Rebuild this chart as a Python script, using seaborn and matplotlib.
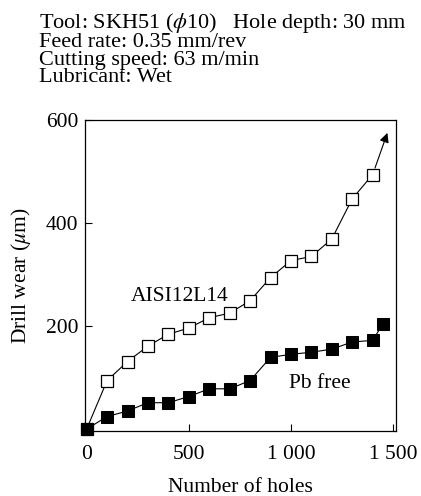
import pandas as pd
import seaborn as sns
import matplotlib.pyplot as plt

holes = [0, 100, 200, 300, 400, 500, 600, 700, 800, 900, 1000, 1100, 1200, 1300, 1400]
wear_aisi = [0, 94, 131, 161, 184, 196, 216, 225, 249, 294, 327, 335, 369, 447, 494]

holes_pb = [0, 100, 200, 300, 400, 500, 600, 700, 800, 900, 1000, 1100, 1200, 1300, 1400, 1450]
wear_pb = [0, 24, 35, 51, 51, 63, 78, 78, 94, 139, 145, 149, 155, 169, 172, 204]

header = ["Tool: SKH51 ($\\phi$10)   Hole depth: 30 mm",
          "Feed rate: 0.35 mm/rev",
          "Cutting speed: 63 m/min",
          "Lubricant: Wet"]

sns.set_style("ticks")
plt.rcParams["font.family"] = ["Liberation Serif", "DejaVu Serif"]
plt.rcParams["mathtext.fontset"] = "stix"
plt.rcParams["text.color"] = "black"
plt.rcParams["axes.labelcolor"] = "black"
plt.rcParams["xtick.color"] = "black"
plt.rcParams["ytick.color"] = "black"
plt.rcParams["axes.edgecolor"] = "black"

fs = 15.5

df_aisi = pd.DataFrame({"holes": holes, "wear": wear_aisi})
df_pb = pd.DataFrame({"holes": holes_pb, "wear": wear_pb})

fig = plt.figure(figsize=(4.21, 4.96), dpi=100)
ax = fig.add_axes([0.202, 0.131, 0.739, 0.627])

sns.lineplot(data=df_aisi, x="holes", y="wear", ax=ax, color="black", lw=0.8,
             marker="s", markersize=8, markerfacecolor="white",
             markeredgecolor="black", markeredgewidth=0.9, zorder=3, clip_on=False)
sns.lineplot(data=df_pb, x="holes", y="wear", ax=ax, color="black", lw=0.8,
             marker="s", markersize=8, markerfacecolor="black",
             markeredgecolor="black", zorder=3, clip_on=False)

# arrow off the top of the AISI curve
ax.annotate("", xy=(1472, 575), xytext=(holes[-1], wear_aisi[-1]),
            arrowprops=dict(arrowstyle="-|>", color="black", lw=0.8,
                            mutation_scale=14, shrinkA=5, shrinkB=0))

ax.text(455, 258, "AISI12L14", fontsize=fs, ha="center", va="center")
ax.text(1140, 88, "Pb free", fontsize=fs, ha="center", va="center")

ax.set_xlim(-8, 1515)
ax.set_ylim(-4, 600)
ax.set_xticks([0, 500, 1000, 1500])
ax.set_xticklabels(["0", "500", "1 000", "1 500"])
ax.set_yticks([200, 400, 600])
ax.tick_params(direction="in", length=5, width=0.8, labelsize=fs)
ax.tick_params(axis="x", pad=10)
ax.tick_params(axis="y", pad=5)
for s in ax.spines.values():
    s.set_linewidth(0.9)
    s.set_visible(True)
ax.set_xlabel("Number of holes", fontsize=fs, labelpad=10)
ax.set_ylabel("Drill wear ($\\mu$m)", fontsize=fs, labelpad=9)

fig.text(0.093, 0.978, "\n".join(header), fontsize=16, va="top", ha="left",
         linespacing=0.88)

fig.savefig("out.png", dpi=100)
